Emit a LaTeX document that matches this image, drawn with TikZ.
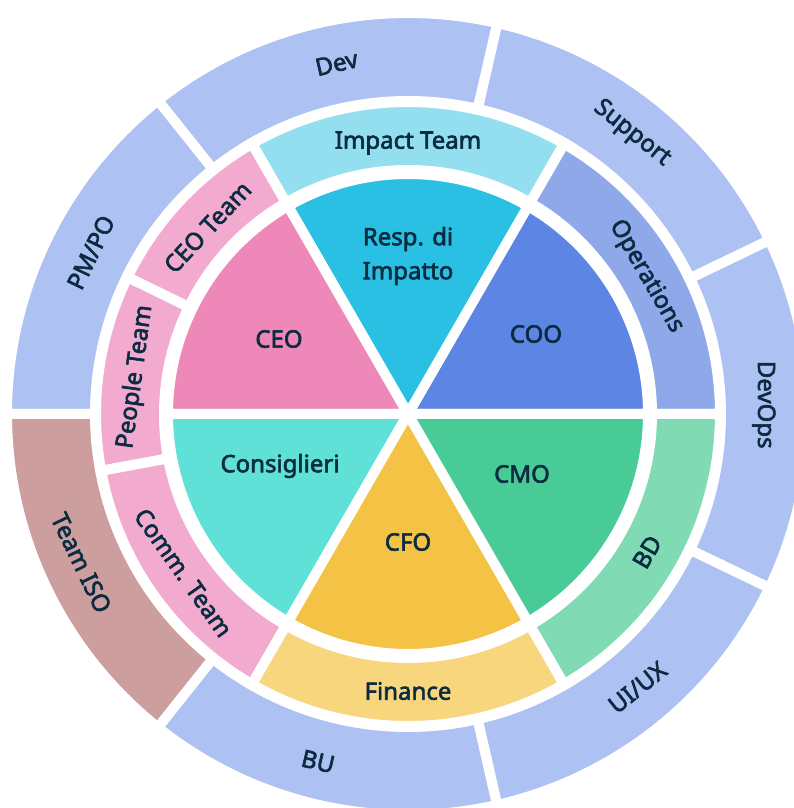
\documentclass[tikz,border=0pt]{standalone}
\usepackage{fontspec}
\setmainfont{Noto Sans}
\newfontfamily\lblfont{Noto Sans}[FakeBold=2.5]
\usetikzlibrary{positioning}

\definecolor{ink}{HTML}{0B2B40}
\definecolor{ceo}{HTML}{EE88B8}
\definecolor{resp}{HTML}{29C0E3}
\definecolor{coo}{HTML}{5D85E3}
\definecolor{cmo}{HTML}{48CB96}
\definecolor{cfo}{HTML}{F4C244}
\definecolor{cons}{HTML}{60E1D8}
\definecolor{impact}{HTML}{93DFEF}
\definecolor{teams}{HTML}{F2ABCE}
\definecolor{ops}{HTML}{8EA8EA}
\definecolor{bd}{HTML}{80DAB4}
\definecolor{fin}{HTML}{F7D67E}
\definecolor{outer}{HTML}{ADC1F2}
\definecolor{iso}{HTML}{CC9E9E}

% one slice of the middle pie: colour, start angle, end angle
\newcommand{\piepart}[3]{\path[part,fill=#1] (0,0) -- (#2:240) arc[start angle=#2,end angle=#3,radius=240] -- cycle;}
% one piece of a ring: colour, start angle, end angle, inner radius, outer radius
\newcommand{\ringpart}[5]{\path[part,fill=#1] (#2:#4) -- (#2:#5) arc[start angle=#2,end angle=#3,radius=#5] -- (#3:#4) arc[start angle=#3,end angle=#2,radius=#4] -- cycle;}

\begin{document}
\begin{tikzpicture}[
      x=1pt, y=1pt,
      part/.style={draw=white, line width=10pt, line join=round},
      every node/.style={text=ink, align=center, inner sep=0pt,
        font=\lblfont\fontsize{24}{34}\selectfont}
      ]
      \useasboundingbox (-408,-394) rectangle (386,414);
      \clip (-408,-394) rectangle (386,414);

      % Outer ring: seven equal pieces, DevOps centred on the right
      \ringpart{outer}{-25.71}{25.71}{313}{401}
      \ringpart{outer}{25.71}{77.14}{313}{401}
      \ringpart{outer}{77.14}{128.57}{313}{401}
      \ringpart{outer}{128.57}{180}{313}{401}
      \ringpart{iso}{180}{231.43}{313}{401}
      \ringpart{outer}{231.43}{282.86}{313}{401}
      \ringpart{outer}{282.86}{334.29}{313}{401}

      % Middle ring: the teams
      \ringpart{ops}{0}{60}{244}{312}
      \ringpart{impact}{60}{120}{244}{312}
      \ringpart{teams}{120}{154}{244}{312}
      \ringpart{teams}{154}{190.5}{244}{312}
      \ringpart{teams}{190.5}{240}{244}{312}
      \ringpart{fin}{240}{300}{244}{312}
      \ringpart{bd}{300}{360}{244}{312}

      % Inner pie: six roles
      \piepart{coo}{0}{60}
      \piepart{resp}{60}{120}
      \piepart{ceo}{120}{180}
      \piepart{cons}{180}{240}
      \piepart{cfo}{240}{300}
      \piepart{cmo}{300}{360}

      % Labels of the pie
      \node (ceolbl) at (-129,75) {CEO};
      \node (resplbl) at (0,158) {Resp. di\\Impatto};
      \node (coolbl) at (128,80) {COO};
      \node (cmolbl) at (114,-60) {CMO};
      \node (conslbl) at (-128,-52) {Consiglieri};
      \node (cfolbl) at (0,-128) {CFO};

      % Labels of the middle ring, turned along the ring
      \node[rotate=-60] (opslbl) at (30:275) {Operations};
      \node (impactlbl) at (90:271) {Impact Team};
      \node[rotate=47] (ceoteamlbl) at (137:274) {CEO Team};
      \node[rotate=82.25] (peoplelbl) at (172.25:275) {People Team};
      \node[rotate=-54.75] (commlbl) at (215.25:275) {Comm. Team};
      \node (finlbl) at (270:277) {Finance};
      \node[rotate=60] (bdlbl) at (330:276) {BD};

      % Labels of the outer ring
      \node[rotate=-90] (devopslbl) at (1.5:356) {DevOps};
      \node[rotate=-38.6] (supportlbl) at (51.4:359) {Support};
      \node[rotate=12.9] (devlbl) at (101.5:358) {Dev};
      \node[rotate=64.3] (pmpolbl) at (153:356) {PM/PO};
      \node[rotate=-64.3] (isolbl) at (204.5:359) {Team ISO};
      \node[rotate=-12.9] (bulbl) at (255.5:359) {BU};
      \node[rotate=38.6] (uiuxlbl) at (310:357) {UI/UX};
    \end{tikzpicture}
\end{document}
